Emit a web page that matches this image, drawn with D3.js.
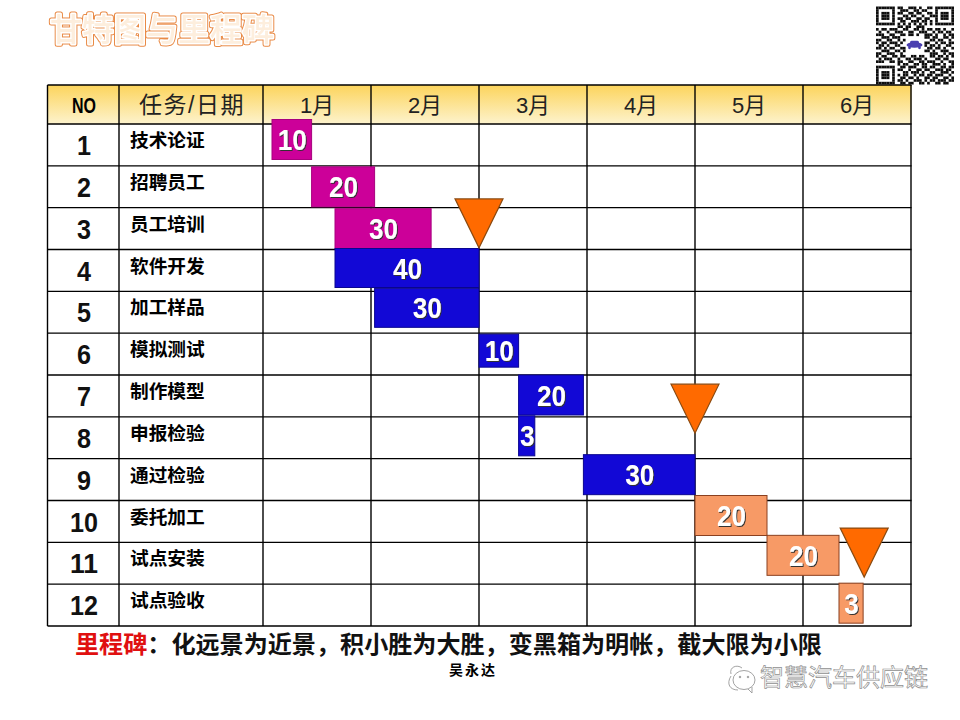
<!DOCTYPE html>
<html lang="zh">
<head>
<meta charset="UTF-8">
<title>甘特图与里程碑</title>
<script src="https://d3js.org/d3.v7.min.js"></script>
<style>
    html, body { margin: 0; background: #fff; }
    text { font-family: "Liberation Sans", "Noto Sans CJK SC", sans-serif; }
</style>
</head>
<body>
<div id="chart"></div>
<script>
// chart data
const taskNo = ["1","2","3","4","5","6","7","8","9","10","11","12"];
const taskNames = ["技术论证","招聘员工","员工培训","软件开发","加工样品","模拟测试","制作模型","申报检验","通过检验","委托加工","试点安装","试点验收"];
const months = ["1月","2月","3月","4月","5月","6月"];
const labels = [10,20,30,40,30,10,20,3,30,20,20,3];
// start / end in days from 1 Jan (30 day months)
const startDay = [2.5,13.5,20,20,31,60,71,71,89,120,140,160];
const endDay = [13.5,31,46.7,60,60,71,89,75.5,120,140,160,166.7];
const phase = ["a","a","a","b","b","b","b","b","b","c","c","c"];
// milestone triangles: day of the tip, row position of the top edge
const milestoneDay = [60,120,167];
const milestoneRow = [1.79,6.22,9.66];

// qr code, finders are added in code
const qrTop = ["011001110100110","001110011011000","011001101100110","000110110010011","011011001101100","001100111011010","010101010101010"];
const qrMid = [
    "00000000110110011100000000000",
    "10110111001100110101101101001",
    "01001001110011001110010110110",
    "11100110011011010011101001011",
    "00111011100000000011011001101",
    "11001100101000000000110110010",
    "10110111010000000011001011011",
    "01101001100000000010110100110",
    "11010110011000000001101101001",
    "00111001101000000011010011100",
    "11001110010000000000111001011",
    "10110011011001101100110110101",
    "01011100100110111010001101100",
    "11100110110011001101110010011",
    "00000000101100110110011101001"
];
const qrBottom = ["011011100110110011011","110010011011001110110","001101110100110011101","101100101101101110010","011011010011011001101","110100111010110111011","011011001101001101100"];
const finder = ["1111111","1000001","1011101","1011101","1011101","1000001","1111111"];

const W = 960, H = 720;
const colors = {a:"#cc0099", b:"#1208d6", c:"#f79a66"};
const edgeColors = {a:"#a8007e", b:"#0a0690", c:"#8a4020"};
const cjk = "'Noto Sans CJK SC'";

const svg = d3.select("#chart").append("svg").attr("width", W).attr("height", H);
const defs = svg.append("defs");
const grad = defs.append("linearGradient").attr("id","head").attr("x1",0).attr("x2",0).attr("y1",0).attr("y2",1);
grad.append("stop").attr("offset","0").attr("stop-color","#fcd45c");
grad.append("stop").attr("offset","1").attr("stop-color","#fdf3cd");
const shadow = defs.append("filter").attr("id","shadow").attr("x","-20%").attr("y","-20%").attr("width","150%").attr("height","150%");
shadow.append("feDropShadow").attr("dx",1).attr("dy",1).attr("stdDeviation",0.6).attr("flood-color","#333");
defs.append("filter").attr("id","soft").append("feGaussianBlur").attr("stdDeviation",0.4);

const x = d3.scaleLinear().domain([0,180]).range([263,911]);
const y = d3.scaleLinear().domain([0,12]).range([124,626]);
const colEdges = [47.5,119,263];
// digits in the slide are a bit narrower than Liberation Sans
const digitWidth = (s, w) => String(s).length * w;

// header
svg.append("rect").attr("x",47.5).attr("y",85).attr("width",864).attr("height",39).attr("fill","url(#head)");

// grid
const grid = svg.append("g").attr("stroke","#000").attr("stroke-width",1.4);
d3.range(13).forEach(i => grid.append("line").attr("x1",47.5).attr("x2",911.5).attr("y1",y(i)).attr("y2",y(i)));
grid.append("line").attr("x1",47.5).attr("x2",911.5).attr("y1",85).attr("y2",85);
colEdges.concat(d3.range(1,7).map(m => x(m*30))).forEach(v =>
    grid.append("line").attr("x1",v).attr("x2",v).attr("y1",85).attr("y2",626));

// header text
svg.append("text").attr("x",72).attr("y",113).attr("font-size",22).attr("font-weight",700)
    .attr("textLength",24).attr("lengthAdjust","spacingAndGlyphs").text("NO");
svg.append("text").attr("x",192).attr("y",113).attr("text-anchor","middle")
    .attr("font-size",23).attr("letter-spacing",1.5).attr("fill","#222").attr("font-family",cjk).text("任务/日期");
months.forEach((m,i) => svg.append("text").attr("x",x(i*30+15)).attr("y",113).attr("text-anchor","middle")
    .attr("font-size",22).attr("fill","#222").text(m));

// row labels
svg.append("g").selectAll("text").data(taskNo).join("text")
    .attr("x",84).attr("y",(d,i) => y(i)+31).attr("text-anchor","middle")
    .attr("font-size",28).attr("font-weight",700).attr("fill","#111")
    .attr("textLength",d => digitWidth(d,14)).attr("lengthAdjust","spacingAndGlyphs").text(d => d);
svg.append("g").selectAll("text").data(taskNames).join("text")
    .attr("x",130).attr("y",(d,i) => y(i)+23).attr("font-size",18.7).attr("font-weight",700)
    .attr("font-family",cjk).text(d => d);

// bars sit slightly off the grid in the original slide
const barNudge = [-4.5,1,1,-1,-3,1,0,-1,-4,-5,-7,-1];
const barHeight = [40,40,40,39,39,33,40,40,40,40,40,40];
const bars = svg.append("g");
labels.forEach((v,i) => {
    const bx = x(startDay[i]), bw = x(endDay[i]) - bx, by = y(i) + barNudge[i];
    bars.append("rect").attr("x",bx).attr("y",by).attr("width",bw).attr("height",barHeight[i])
        .attr("fill",colors[phase[i]]).attr("stroke",edgeColors[phase[i]]).attr("stroke-width",1);
    bars.append("text").attr("x",bx+bw/2+0.5).attr("y",by+barHeight[i]/2+10.5).attr("text-anchor","middle")
        .attr("font-size",30).attr("font-weight",700).attr("fill","#fff")
        .attr("textLength",digitWidth(v,14.5)).attr("lengthAdjust","spacingAndGlyphs")
        .attr("filter","url(#shadow)").text(v);
});

// milestones
svg.append("g").selectAll("path").data(milestoneDay).join("path")
    .attr("d",(d,i) => {
        const cx = x(d), top = y(milestoneRow[i]);
        return `M${cx-24},${top}H${cx+24}L${cx},${top+49}Z`;
    })
    .attr("fill","#ff6a00").attr("stroke","#8a4a10").attr("stroke-width",1.2);

// footer line
const foot = svg.append("text").attr("x",75).attr("y",653).attr("font-size",24.1).attr("font-weight",700)
    .attr("font-family",cjk);
foot.append("tspan").attr("fill","#e01010").text("里程碑");
foot.append("tspan").attr("fill","#111").text("：化远景为近景，积小胜为大胜，变黑箱为明帐，截大限为小限");
svg.append("text").attr("x",473).attr("y",675).attr("text-anchor","middle").attr("font-size",14)
    .attr("letter-spacing",2).attr("font-weight",700).attr("font-family",cjk).text("吴永达");

// title, layered strokes for the double outline
const title = svg.append("g").attr("filter","url(#soft)").attr("font-family",cjk).attr("font-size",32).attr("font-weight",500)
    .attr("stroke-linejoin","round");
[["#e98a45",5],["#fff",3],["#fdeedd",0]].forEach(s =>
    title.append("text").attr("x",50).attr("y",41).attr("fill",s[0]).attr("stroke",s[0]).attr("stroke-width",s[1])
        .text("甘特图与里程碑"));

// qr code
const qrRows = qrTop.map((r,i) => finder[i] + r + finder[i])
    .concat(qrMid)
    .concat(qrBottom.map((r,i) => finder[i] + "0" + r));
const qrScale = d3.scaleBand().domain(d3.range(29)).range([0,78]);
const qr = svg.append("g").attr("transform","translate(876,6.5)").attr("fill","#111").attr("filter","url(#soft)");
qrRows.forEach((row,r) => row.split("").forEach((c,k) => {
    if (c === "1") qr.append("rect").attr("x",qrScale(k)).attr("y",qrScale(r))
        .attr("width",qrScale.bandwidth()).attr("height",qrScale.bandwidth());
}));
// little car in the middle of the code
const car = svg.append("g").attr("transform","translate(914.5,45)");
car.append("ellipse").attr("rx",8).attr("ry",2.8).attr("fill","#4a3fb0");
car.append("rect").attr("x",-4.5).attr("y",-4.2).attr("width",9).attr("height",3).attr("rx",1.5).attr("fill","#4a3fb0");
[-5,5].forEach(c => car.append("circle").attr("cx",c).attr("cy",2.8).attr("r",1.4).attr("fill","#4a3fb0"));

// watermark
const icon = svg.append("g").attr("fill","none").attr("stroke","#999").attr("stroke-width",0.9);
icon.append("path").attr("d","M731,674 C729,667 737,664 742,668 M738,690 C730,690 726,684 731,676");
icon.append("ellipse").attr("cx",744).attr("cy",680).attr("rx",11).attr("ry",9.5);
icon.append("path").attr("d","M748,689 L752,693 L752,687");
[[740,677],[748,677]].forEach(p => icon.append("circle").attr("cx",p[0]).attr("cy",p[1]).attr("r",0.8).attr("fill","#999"));
svg.append("text").attr("x",760).attr("y",686).attr("font-size",24).attr("font-family",cjk)
    .attr("fill","#fff").attr("stroke","#8f8f8f").attr("stroke-width",0.7).text("智慧汽车供应链");
</script>
</body>
</html>
